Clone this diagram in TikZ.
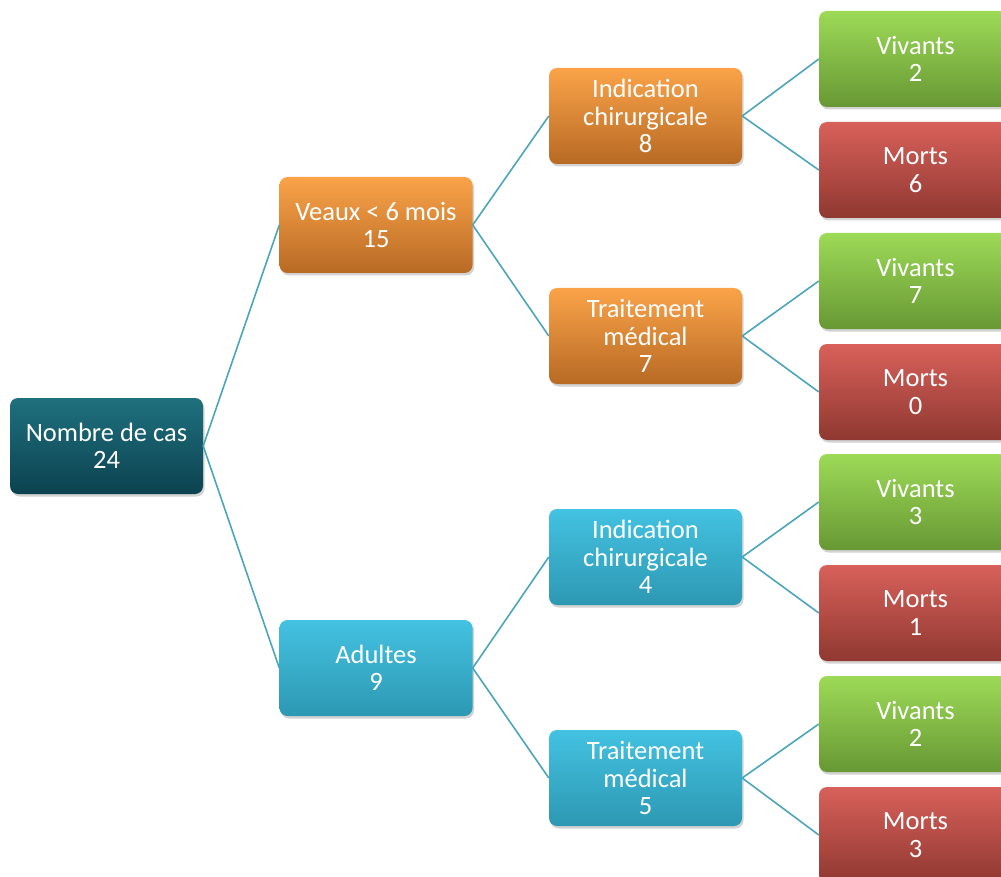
\documentclass[tikz,border=0pt]{standalone}
\usepackage{fontspec}
\setmainfont{Carlito}
\usetikzlibrary{shadows}
\definecolor{lnk}{HTML}{4BA5BB}
\definecolor{rootT}{HTML}{1F707E}
\definecolor{rootB}{HTML}{0C4250}
\definecolor{orT}{HTML}{FAA349}
\definecolor{orB}{HTML}{B86A24}
\definecolor{blT}{HTML}{43C2E1}
\definecolor{blB}{HTML}{2D98B3}
\definecolor{grT}{HTML}{9DDA57}
\definecolor{grB}{HTML}{679834}
\definecolor{rdT}{HTML}{D8615A}
\definecolor{rdB}{HTML}{8F3831}
\tikzset{
  box/.style={rounded corners=8pt, minimum width=193pt, minimum height=96pt, inner sep=0pt,
    align=center, text=white, font=\fontsize{26.5}{27.5}\selectfont,
    drop shadow={opacity=0.35, shadow xshift=1.5pt, shadow yshift=-2.5pt}},
  rootbox/.style={box, top color=rootT, bottom color=rootB},
  orbox/.style={box, top color=orT, bottom color=orB},
  blbox/.style={box, top color=blT, bottom color=blB},
  grbox/.style={box, top color=grT, bottom color=grB},
  rdbox/.style={box, top color=rdT, bottom color=rdB},
  link/.style={draw=lnk, line width=1.6pt}
}
\begin{document}
\begin{tikzpicture}[x=1pt,y=-1pt]
\useasboundingbox (0,0) rectangle (1001,877);
\clip (0,0) rectangle (1001,877);
\node[rootbox] (root) at (106.5,446) {Nombre de cas\\24};
\node[orbox] (veaux) at (376,225) {Veaux < 6 mois\\15};
\node[blbox] (adultes) at (376,668) {Adultes\\9};
\node[orbox] (ic8) at (645.5,116) {Indication\\chirurgicale\\8};
\node[orbox] (tm7) at (645.5,336) {Traitement\\médical\\7};
\node[blbox] (ic4) at (645.5,557) {Indication\\chirurgicale\\4};
\node[blbox] (tm5) at (645.5,778) {Traitement\\médical\\5};
\node[grbox] (v1) at (915.5,59) {Vivants\\2};
\node[rdbox] (m1) at (915.5,170) {Morts\\6};
\node[grbox] (v2) at (915.5,281) {Vivants\\7};
\node[rdbox] (m2) at (915.5,392) {Morts\\0};
\node[grbox] (v3) at (915.5,502) {Vivants\\3};
\node[rdbox] (m3) at (915.5,613) {Morts\\1};
\node[grbox] (v4) at (915.5,724) {Vivants\\2};
\node[rdbox] (m4) at (915.5,835) {Morts\\3};
\draw[link] (root.east) -- (veaux.west);
\draw[link] (root.east) -- (adultes.west);
\draw[link] (veaux.east) -- (ic8.west);
\draw[link] (veaux.east) -- (tm7.west);
\draw[link] (adultes.east) -- (ic4.west);
\draw[link] (adultes.east) -- (tm5.west);
\draw[link] (ic8.east) -- (v1.west);
\draw[link] (ic8.east) -- (m1.west);
\draw[link] (tm7.east) -- (v2.west);
\draw[link] (tm7.east) -- (m2.west);
\draw[link] (ic4.east) -- (v3.west);
\draw[link] (ic4.east) -- (m3.west);
\draw[link] (tm5.east) -- (v4.west);
\draw[link] (tm5.east) -- (m4.west);
\end{tikzpicture}
\end{document}
